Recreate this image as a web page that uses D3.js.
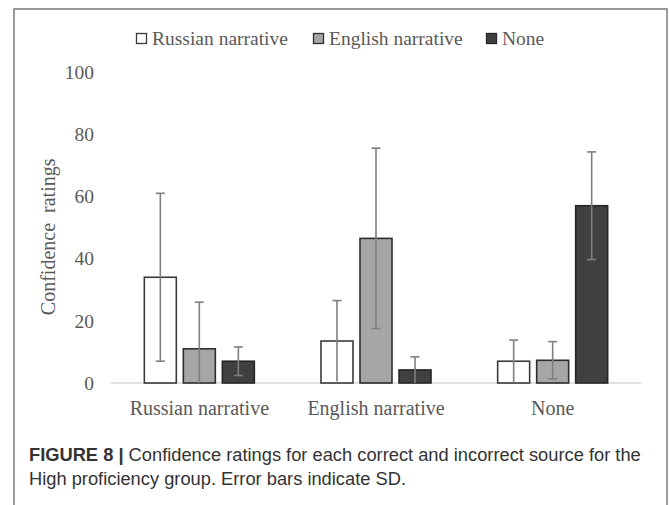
<!DOCTYPE html>
<html>
<head>
<meta charset="utf-8">
<script src="https://cdn.jsdelivr.net/npm/d3@7"></script>
<style>
  html, body { margin: 0; padding: 0; background: #fff; }
  svg { display: block; }
  .tick-label, .cat-label, .legend-label, .y-title { font-family: "Liberation Serif", "Times New Roman", serif; fill: #595959; }
  .caption { font-family: "Liberation Sans", Arial, sans-serif; fill: #333; }
</style>
</head>
<body>
<div id="chart"></div>
<script>
const categories = ['Russian narrative', 'English narrative', 'None'];
const seriesNames = ['Russian narrative', 'English narrative', 'None'];
// mean per category, one entry per series
const meanRussian = [34, 11, 7];
const meanEnglish = [13.5, 46.5, 4.2];
const meanNone = [7, 7.3, 57];
// SD per category, one entry per series
const sdRussian = [27, 15, 4.6];
const sdEnglish = [13, 29, 4.2];
const sdNone = [6.8, 6, 17.3];
const yTicks = [0, 20, 40, 60, 80, 100];

const fills = ['#ffffff', '#a6a6a6', '#404040'];
const strokes = ['#3a3a3a', '#2e2e2e', '#262626'];

const W = 669, H = 505;
const means = [meanRussian, meanEnglish, meanNone];
const sds = [sdRussian, sdEnglish, sdNone];
const rows = categories.map((c, i) => ({
  cat: c,
  bars: seriesNames.map((s, j) => ({ series: s, idx: j, mean: means[i][j], sd: sds[i][j] }))
}));

const svg = d3.select('#chart').append('svg')
  .attr('width', W)
  .attr('height', H);

// outer frame
svg.append('rect')
  .attr('x', 14).attr('y', 9)
  .attr('width', 653).attr('height', H + 10)
  .attr('fill', 'none')
  .attr('stroke', '#7a7a7a')
  .attr('stroke-width', 1.5);

const x0 = d3.scaleBand().domain(categories).range([111, 641]).padding(0);
const groupW = 110;
const x1 = d3.scaleBand().domain(seriesNames).range([0, groupW]).paddingInner(0.18);
const y = d3.scaleLinear().domain([0, 100]).range([383, 72]);

// y tick labels
svg.append('g')
  .selectAll('text')
  .data(yTicks)
  .join('text')
  .attr('class', 'tick-label')
  .attr('x', 94)
  .attr('y', d => y(d))
  .attr('dy', '0.35em')
  .attr('text-anchor', 'end')
  .attr('font-size', 19.5)
  .text(d => d);

// y title
svg.append('text')
  .attr('class', 'y-title')
  .attr('transform', `translate(48,${y(47)}) rotate(-90)`)
  .attr('text-anchor', 'middle')
  .attr('dy', '0.35em')
  .attr('font-size', 20)
  .attr('word-spacing', 5)
  .text('Confidence ratings');

// baseline
svg.append('line')
  .attr('x1', x0.range()[0]).attr('x2', x0.range()[1])
  .attr('y1', y(0)).attr('y2', y(0))
  .attr('stroke', '#d9d9d9')
  .attr('stroke-width', 1.5);

const group = svg.append('g')
  .selectAll('g')
  .data(rows)
  .join('g')
  .attr('transform', d => `translate(${x0(d.cat) + (x0.bandwidth() - groupW) / 2},0)`);

group.selectAll('rect')
  .data(d => d.bars)
  .join('rect')
  .attr('x', d => x1(d.series))
  .attr('y', d => y(d.mean))
  .attr('width', x1.bandwidth())
  .attr('height', d => y(0) - y(d.mean))
  .attr('fill', d => fills[d.idx])
  .attr('stroke', d => strokes[d.idx])
  .attr('stroke-width', 1.6);

// error bars
const err = group.selectAll('g.err')
  .data(d => d.bars)
  .join('g')
  .attr('class', 'err')
  .attr('stroke', '#7f7f7f')
  .attr('stroke-width', 1.6);

const cx = d => x1(d.series) + x1.bandwidth() / 2;
const lo = d => Math.max(0, d.mean - d.sd);
const hi = d => d.mean + d.sd;

err.append('line')
  .attr('x1', cx).attr('x2', cx)
  .attr('y1', d => y(lo(d))).attr('y2', d => y(hi(d)));
err.append('line')
  .attr('x1', d => cx(d) - 4.5).attr('x2', d => cx(d) + 4.5)
  .attr('y1', d => y(hi(d))).attr('y2', d => y(hi(d)));
err.filter(d => d.mean - d.sd > 0.5)
  .append('line')
  .attr('x1', d => cx(d) - 4.5).attr('x2', d => cx(d) + 4.5)
  .attr('y1', d => y(lo(d))).attr('y2', d => y(lo(d)));

// category labels
svg.append('g')
  .selectAll('text')
  .data(categories)
  .join('text')
  .attr('class', 'cat-label')
  .attr('x', d => x0(d) + x0.bandwidth() / 2)
  .attr('y', 408)
  .attr('dy', '0.35em')
  .attr('text-anchor', 'middle')
  .attr('font-size', 20)
  .text(d => d);

// legend
const legendX = [136, 313, 486];
const legend = svg.append('g')
  .selectAll('g')
  .data(seriesNames)
  .join('g')
  .attr('transform', (d, i) => `translate(${legendX[i]},38)`);

legend.append('rect')
  .attr('x', 0.5).attr('y', -4.5)
  .attr('width', 10).attr('height', 10)
  .attr('fill', (d, i) => fills[i])
  .attr('stroke', (d, i) => strokes[i])
  .attr('stroke-width', 1.3);

legend.append('text')
  .attr('class', 'legend-label')
  .attr('x', 16)
  .attr('y', 0)
  .attr('dy', '0.35em')
  .attr('font-size', 19.5)
  .text(d => d);

// caption
const cap = svg.append('text')
  .attr('class', 'caption')
  .attr('x', 29)
  .attr('y', 455)
  .attr('dy', '0.35em')
  .attr('font-size', 18.3);
cap.append('tspan').attr('font-weight', 'bold').text('FIGURE 8 | ');
cap.append('tspan').text('Confidence ratings for each correct and incorrect source for the');

svg.append('text')
  .attr('class', 'caption')
  .attr('x', 29)
  .attr('y', 479)
  .attr('dy', '0.35em')
  .attr('font-size', 18.3)
  .text('High proficiency group. Error bars indicate SD.');
</script>
</body>
</html>
